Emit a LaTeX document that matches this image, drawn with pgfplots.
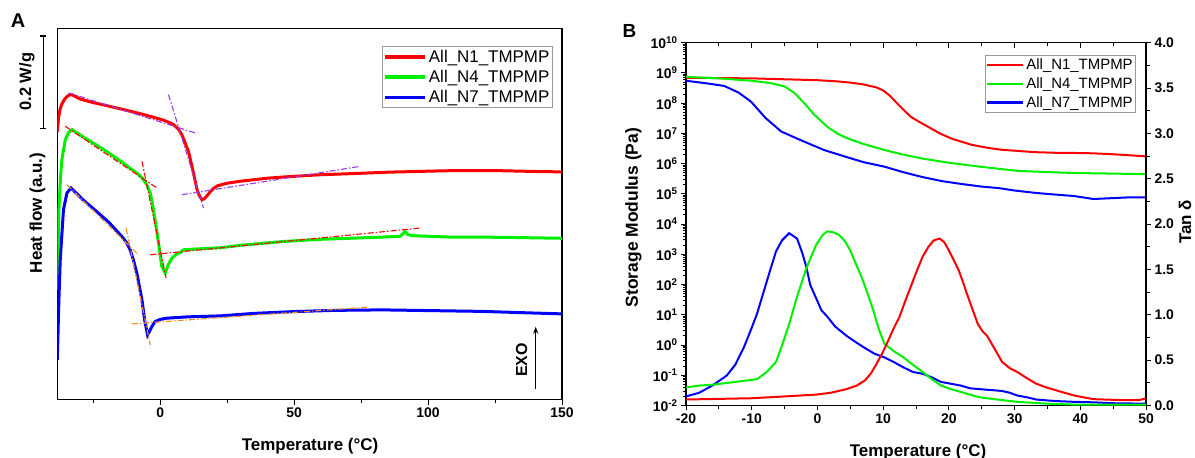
\documentclass[border=0pt]{standalone}
\usepackage{fontspec}
\setmainfont{Liberation Sans}
\usepackage{pgfplots}
\pgfplotsset{compat=1.18}
\usetikzlibrary{arrows.meta}
\definecolor{cred}{RGB}{255,0,0}
\definecolor{cgreen}{RGB}{0,240,0}
\definecolor{cblue}{RGB}{0,0,255}
\definecolor{cviolet}{RGB}{150,60,230}
\definecolor{corange}{RGB}{245,140,30}
\pgfplotsset{
  tang/.style={line width=1.1bp, dash pattern=on 6bp off 2bp on 1.5bp off 2bp, forget plot},
  tlf/.style={font=\fontsize{14}{16}\selectfont\bfseries},
}
\begin{document}
\begin{tikzpicture}
\useasboundingbox (0bp,0bp) rectangle (1195bp,458bp);
% ---------------- Panel A ----------------
\begin{axis}[
  at={(57.3bp,58.5bp)}, anchor=south west, scale only axis,
  width=504.7bp, height=370.7bp,
  xmin=-38.4, xmax=150, ymin=0.5, ymax=370.7,
  axis line style={line width=1.3bp},
  xtick={0,50,100,150}, xticklabels={0,50,100,150},
  minor xtick={-25,25,75,125},
  ytick=\empty, xtick pos=left, tick align=outside,
  major tick length=5bp, minor tick length=3.5bp,
  every tick/.style={line width=1bp, black},
  xticklabel style={tlf},
  legend style={at={(1,1)}, anchor=north east, xshift=-9.3bp, yshift=-17.4bp,
    draw=gray!80, line width=0.6bp, font=\fontsize{17}{19}\selectfont,
    inner xsep=1bp, inner ysep=1.5bp, row sep=2.5bp, cells={anchor=west}},
  legend image code/.code={\draw[#1, line width=3.5bp] (0bp,0bp) -- (40bp,0bp);},
]
\addplot[cred, line width=3bp] table {
-38.4 268
-38.0 280
-37.5 289
-36.8 295
-36.0 299
-35.0 302.5
-34.0 304.5
-33.0 305
-29.8 300.5
-25 297
-20 294
-13.7 290
-7.5 286
-2 282
1.2 279.5
3.5 277
5.0 275
6.8 270.5
8.0 265.5
9.0 259
10.0 252
10.6 248
11.8 234
12.8 222
13.7 211
14.6 204
15.6 200
16.5 201
17.5 204
18.7 208
20 211.5
21.5 214
25 216.5
30 218.5
40 221.5
46 222.7
60 225
70.9 226
85 227.5
100 228.5
108.2 229
120 229
126.9 229
140 228.2
150 227.8
};
\addlegendentry{All\_N1\_TMPMP}
\addplot[cgreen, line width=3bp] table {
-38.4 110
-37.8 190
-37.2 222
-36.7 240
-35.4 260
-34.2 267
-32.9 270
-28.6 262.5
-24 255
-19.9 248
-15 239
-11 231
-8.7 226.7
-6.5 221
-5.0 215
-3.7 206.7
-2.5 190
-1.5 173.3
-0.6 156.7
0.6 133.3
1.9 126.7
3.0 135
4.4 141.7
6 145.5
7.5 147.3
8.7 150
15 151
22.4 152
30 154.5
46 158.3
60 160.5
83.3 162.7
89.5 163.5
90.6 166
91.4 168.3
92.5 165
95 164
108.2 162.7
126.9 162.5
150 161.5
};
\addlegendentry{All\_N4\_TMPMP}
\addplot[cblue, line width=3bp] table {
-38.4 40
-37.8 100
-37.3 140
-36.1 190
-34.8 206.7
-33.3 211.7
-28 198
-23.6 188
-19 177
-14.3 163.3
-12.5 157
-11.2 150
-10 140
-8.7 126.7
-7.8 114
-6.8 100
-5.8 80
-4.7 65
-3.1 73.3
-1.9 78.3
0 80.5
2.5 81.7
10 83
22.4 84
35 86.5
50 88.3
65 89.5
83 90
100 89.3
120 88.5
140 86.8
150 86
};
\addlegendentry{All\_N7\_TMPMP}
% tangents
\addplot[cviolet, tang] coordinates {(-34.2,306.7) (13.1,266.7)};
\addplot[cviolet, tang] coordinates {(3.1,305) (16.2,191.7)};
\addplot[cviolet, tang] coordinates {(8.1,205) (74.6,233.3)};
\addplot[cred, tang] coordinates {(-35.4,273.3) (-1.2,211.7)};
\addplot[cred, tang] coordinates {(-6.8,238.3) (2.2,121.7)};
\addplot[cred, tang] coordinates {(-3.7,145) (97,171.7)};
\addplot[corange, tang] coordinates {(-34.8,215) (-8.1,145)};
\addplot[corange, tang] coordinates {(-12.7,171.7) (-3.7,55)};
\addplot[corange, tang] coordinates {(-10.6,76) (77.4,92.7)};
\end{axis}
% annotations A
\node[font=\fontsize{20}{22}\selectfont\bfseries] at (18bp,437bp) {A};
\draw[line width=1.2bp] (43.3bp,422bp) -- (43.3bp,329.7bp);
\draw[line width=1.2bp] (40.3bp,422bp) -- (46.3bp,422bp);
\draw[line width=1.2bp] (40.3bp,329.7bp) -- (46.3bp,329.7bp);
\node[rotate=90, font=\fontsize{16.5}{18}\selectfont\bfseries] at (27bp,376.3bp) {0.2 W/g};
\node[rotate=90, font=\fontsize{17}{19}\selectfont\bfseries] at (37.5bp,245bp) {Heat flow (a.u.)};
\node[font=\fontsize{17}{19}\selectfont\bfseries, anchor=base] at (310bp,8bp) {Temperature (°C)};
\draw[line width=1.2bp, -{Stealth[length=7bp,width=5bp]}] (535.7bp,68.7bp) -- (535.7bp,131.3bp);
\node[rotate=90, font=\fontsize{16}{18}\selectfont\bfseries] at (521.7bp,98bp) {EXO};
% ---------------- Panel B ----------------
\begin{axis}[
  at={(686bp,52.5bp)}, anchor=south west, scale only axis,
  width=460bp, height=362.8bp,
  xmin=-20, xmax=50, ymode=log, ymin=1e-2, ymax=1e10,
  axis y line*=left,
  axis line style={line width=1.3bp},
  xtick={-20,-10,0,10,20,30,40,50}, xticklabels={-20,-10,0,10,20,30,40,50},
  minor xtick={-15,-5,5,15,25,35,45},
  ytick={1e-2,1e-1,1,1e1,1e2,1e3,1e4,1e5,1e6,1e7,1e8,1e9,1e10},
  yticklabels={10\textsuperscript{-2},10\textsuperscript{-1},10\textsuperscript{0},10\textsuperscript{1},10\textsuperscript{2},10\textsuperscript{3},10\textsuperscript{4},10\textsuperscript{5},10\textsuperscript{6},10\textsuperscript{7},10\textsuperscript{8},10\textsuperscript{9},10\textsuperscript{10}},
  minor ytick={},
  xtick pos=left, tick align=outside,
  major tick length=5bp, minor tick length=3.5bp,
  every tick/.style={line width=1bp, black},
  ticklabel style={tlf},
  legend style={at={(1,1)}, anchor=north east, xshift=-10bp, yshift=-12.3bp,
    draw=gray!80, line width=0.6bp, font=\fontsize{15}{17}\selectfont,
    inner xsep=1bp, inner ysep=1.5bp, row sep=2.5bp, cells={anchor=west}},
  legend image code/.code={\draw[#1, line width=2.5bp] (0bp,0bp) -- (36bp,0bp);},
]
\addplot[cred, line width=2bp] table {
-20 6.92e8
-15 6.76e8
-10 6.61e8
-5 6.17e8
0 5.75e8
3 5.25e8
5 4.79e8
7 4.17e8
9 3.31e8
10 2.63e8
11 1.78e8
12 1.05e8
13 6.31e7
14.2 3.55e7
15.5 2.40e7
17 1.58e7
18.8 9.55e6
20.5 6.61e6
22 5.25e6
23.5 4.17e6
26 3.31e6
28 2.88e6
30.5 2.63e6
33 2.40e6
36 2.29e6
40 2.24e6
42 2.19e6
45 2.04e6
48 1.86e6
50 1.74e6
};
\addlegendentry{All\_N1\_TMPMP}
\addplot[cgreen, line width=2bp] table {
-20 7.41e8
-15 6.61e8
-10 5.50e8
-7 4.57e8
-5 3.55e8
-3.5 2.19e8
-2 1.0e8
-0.5 4.17e7
1.5 1.66e7
3 1.0e7
4.4 7.08e6
7 4.47e6
10.2 2.82e6
13 2.0e6
15.9 1.48e6
20 1.07e6
24.7 7.94e5
28 6.61e5
30.5 5.75e5
35 5.25e5
39 4.90e5
45 4.68e5
50 4.47e5
};
\addlegendentry{All\_N4\_TMPMP}
\addplot[cblue, line width=2bp] table {
-20 5.50e8
-17 4.57e8
-14.2 3.72e8
-12 2.24e8
-10.1 1.12e8
-7.9 3.24e7
-5.5 1.15e7
-3 6.61e6
-1.5 4.79e6
1 2.82e6
4.4 1.66e6
7 1.12e6
10.2 7.94e5
13 5.25e5
15.9 3.63e5
19 2.63e5
21.8 2.14e5
25 1.74e5
27.6 1.55e5
30 1.29e5
33.3 1.07e5
36 9.55e4
39 8.51e4
42 6.76e4
45 7.24e4
47 7.59e4
50 7.59e4
};
\addlegendentry{All\_N7\_TMPMP}
\end{axis}
\begin{axis}[
  at={(686bp,52.5bp)}, anchor=south west, scale only axis,
  width=460bp, height=362.8bp,
  xmin=-20, xmax=50, ymin=0, ymax=4,
  axis y line*=right, axis x line=none,
  axis line style={line width=1.3bp},
  ytick={0,0.5,1,1.5,2,2.5,3,3.5,4},
  yticklabels={0.0,0.5,1.0,1.5,2.0,2.5,3.0,3.5,4.0},
  minor ytick={0.25,0.75,1.25,1.75,2.25,2.75,3.25,3.75},
  tick align=outside,
  major tick length=5bp, minor tick length=3.5bp,
  every tick/.style={line width=1bp, black},
  ticklabel style={tlf},
]
\addplot[cblue, line width=2bp] table {
-20 0.10
-18 0.14
-16 0.22
-13.8 0.33
-12.5 0.45
-11.2 0.64
-10.2 0.82
-9.2 1.01
-8.2 1.25
-7.2 1.49
-6.3 1.70
-5.4 1.82
-4.3 1.90
-3.1 1.84
-2.3 1.68
-1.7 1.53
-1.1 1.33
0 1.15
0.6 1.05
1.5 0.98
2.7 0.87
4.4 0.77
5.8 0.70
7.3 0.63
8.7 0.57
10.2 0.53
11.6 0.48
13.1 0.42
14.5 0.37
16 0.35
17.4 0.31
18.8 0.26
20.3 0.24
21.8 0.22
23.2 0.19
24.7 0.18
26.5 0.17
28.1 0.16
29.3 0.14
30.4 0.11
31.9 0.09
33.3 0.066
36 0.05
39.1 0.04
42 0.035
45 0.025
50 0.02
};
\addplot[cgreen, line width=2bp] table {
-20 0.20
-17.9 0.22
-15.8 0.23
-12.5 0.26
-9.2 0.29
-7.7 0.37
-6.3 0.48
-5.3 0.68
-4.3 0.90
-3.1 1.20
-1.7 1.51
-0.2 1.77
0.8 1.88
1.5 1.92
2.4 1.91
3.3 1.88
4.2 1.81
5.0 1.71
5.8 1.57
6.7 1.42
7.6 1.24
8.5 1.05
9.3 0.85
10.2 0.68
11.6 0.60
13.1 0.53
14.5 0.45
16 0.37
17.4 0.29
18.8 0.22
20.3 0.18
21.8 0.15
23.2 0.12
24.7 0.09
27.5 0.065
30.4 0.04
35 0.02
39.1 0.01
50 0.01
};
\addplot[cred, line width=2bp] table {
-20 0.066
-10 0.08
-5 0.10
-0.2 0.12
2 0.14
4.4 0.18
6 0.22
7.3 0.28
8.2 0.36
9.0 0.46
9.9 0.58
10.8 0.72
11.6 0.85
12.5 0.98
13.3 1.14
14.2 1.31
15.1 1.48
16 1.64
16.9 1.75
17.7 1.82
18.6 1.84
19.3 1.80
20 1.71
20.7 1.61
21.5 1.49
22.2 1.35
22.9 1.20
23.7 1.04
24.4 0.90
25.1 0.82
25.8 0.77
27 0.62
28.1 0.48
29.3 0.41
30.4 0.37
31.9 0.30
33.3 0.24
34.8 0.20
36.2 0.17
37.6 0.14
39.1 0.11
40.5 0.09
42 0.07
44 0.065
46 0.06
47.8 0.06
49 0.06
50 0.08
};
\end{axis}
\begin{axis}[
  at={(686bp,52.5bp)}, anchor=south west, scale only axis,
  width=460bp, height=362.8bp,
  xmin=-20, xmax=50, ymin=0, ymax=1,
  axis x line*=top, axis y line=none,
  axis line style={line width=1.3bp},
  xtick={-20,-10,0,10,20,30,40,50}, xticklabels={},
  minor xtick={-15,-5,5,15,25,35,45},
  tick align=inside,
  major tick length=5bp, minor tick length=3.5bp,
  every tick/.style={line width=1bp, black},
]
\addplot[draw=none, forget plot] coordinates {(0,0.5)};
\end{axis}
\node[font=\fontsize{19}{21}\selectfont\bfseries] at (629.5bp,427bp) {B};
\node[rotate=90, font=\fontsize{17.5}{19}\selectfont\bfseries] at (633.5bp,240.5bp) {Storage Modulus (Pa)};
\node[rotate=90, inner sep=0pt, font=\fontsize{17}{19}\selectfont\bfseries] at (1185bp,236bp) {Tan δ};
\node[font=\fontsize{17}{19}\selectfont\bfseries, anchor=base] at (918bp,2bp) {Temperature (°C)};
\end{tikzpicture}
\end{document}
